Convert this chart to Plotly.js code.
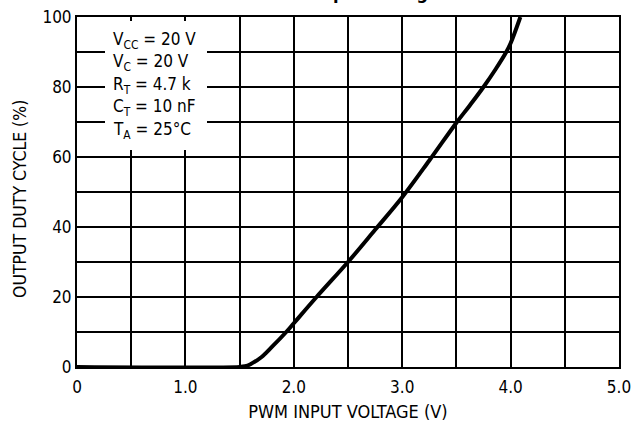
<!DOCTYPE html>
<html>
<head>
<meta charset="utf-8">
<script src="https://cdn.plot.ly/plotly-3.0.1.min.js"></script>
<style>html,body{margin:0;padding:0;background:#fff;}#chart{width:632px;height:430px;}</style>
</head>
<body>
<div id="chart"></div>
<script>
// Data
const voltage = [0, 1.5, 1.55, 1.6, 1.7, 1.8, 1.93, 2.0, 2.21, 2.5, 2.75, 3.0, 3.25, 3.5, 3.625, 3.75, 3.86, 3.96, 4.0, 4.09];
const dutyCycle = [0, 0, 0.2, 0.8, 2.8, 5.8, 10, 12.5, 20, 30, 39.2, 48.5, 59, 69.8, 74.8, 80, 85, 90, 92.5, 100];
const xTickVals = [0, 0.5, 1, 1.5, 2, 2.5, 3, 3.5, 4, 4.5, 5];
const xTickText = ['0', '', '1.0', '', '2.0', '', '3.0', '', '4.0', '', '5.0'];
const yTickVals = [0, 10, 20, 30, 40, 50, 60, 70, 80, 90, 100];
const yTickText = ['0', '', '20', '', '40', '', '60', '', '80', '', '100'];
const conditions = ['V<sub>CC</sub> = 20 V', 'V<sub>C</sub> = 20 V', 'R<sub>T</sub> = 4.7 k', 'C<sub>T</sub> = 10 nF', 'T<sub>A</sub> = 25°C'];
const titleText = 'PWM Input Voltage';
const xTitle = 'PWM INPUT VOLTAGE (V)';
const yTitle = 'OUTPUT DUTY CYCLE (%)';

const FONT = '"DejaVu Sans Condensed", "Liberation Sans Narrow", "Arial Narrow", "Liberation Sans", sans-serif';

// plot area in pixels
const L = 77, R = 619, T = 17, B = 367;
const px = v => (v - L) / (R - L);
const py = v => (B - v) / (B - T);

const trace = {
  x: voltage, y: dutyCycle, type: 'scatter', mode: 'lines',
  line: {color: '#000', width: 4, shape: 'spline', smoothing: 1},
  cliponaxis: false, hoverinfo: 'skip'
};

const annotations = conditions.map((t, i) => ({
  xref: 'paper', yref: 'paper', x: px(111), y: py(40 + i * 22.6),
  xanchor: 'left', yanchor: 'middle', align: 'left', showarrow: false,
  text: t, font: {family: FONT, size: 17, color: '#000'}
}));
annotations.push({
  xref: 'paper', yref: 'paper', x: px(262), y: py(5),
  xanchor: 'left', yanchor: 'bottom', showarrow: false,
  text: '<b>' + titleText + '</b>',
  font: {family: FONT, size: 18, color: '#000'}
});
annotations.push({
  xref: 'paper', yref: 'paper', x: px(20), y: py(199),
  xanchor: 'center', yanchor: 'middle', textangle: -90, showarrow: false,
  text: yTitle, font: {family: FONT, size: 17.5, color: '#000'}
});

const layout = {
  width: 632, height: 430,
  margin: {l: L, r: 632 - R, t: T, b: 430 - B},
  paper_bgcolor: '#fff', plot_bgcolor: '#fff',
  showlegend: false,
  font: {family: FONT, color: '#000', size: 16},
  xaxis: {
    range: [0, 5], tickmode: 'array', tickvals: xTickVals, ticktext: xTickText,
    showgrid: true, gridcolor: '#000', gridwidth: 2,
    showline: true, linecolor: '#000', linewidth: 2, mirror: true,
    zeroline: false, ticks: '', ticklabelstandoff: 4,
    tickfont: {family: FONT, size: 17, color: '#000'},
    title: {text: xTitle, font: {family: FONT, size: 18, color: '#000'}, standoff: 9}
  },
  yaxis: {
    range: [0, 100], tickmode: 'array', tickvals: yTickVals, ticktext: yTickText,
    showgrid: true, gridcolor: '#000', gridwidth: 2,
    showline: true, linecolor: '#000', linewidth: 2, mirror: true,
    zeroline: false, ticks: '',
    tickfont: {family: FONT, size: 17, color: '#000'}
  },
  shapes: [{
    type: 'rect', xref: 'paper', yref: 'paper', layer: 'above',
    x0: px(105), x1: px(207), y0: py(150), y1: py(21),
    fillcolor: '#fff', line: {width: 0}
  }],
  annotations: annotations
};

Plotly.newPlot('chart', [trace], layout, {displayModeBar: false, staticPlot: true});
</script>
</body>
</html>
